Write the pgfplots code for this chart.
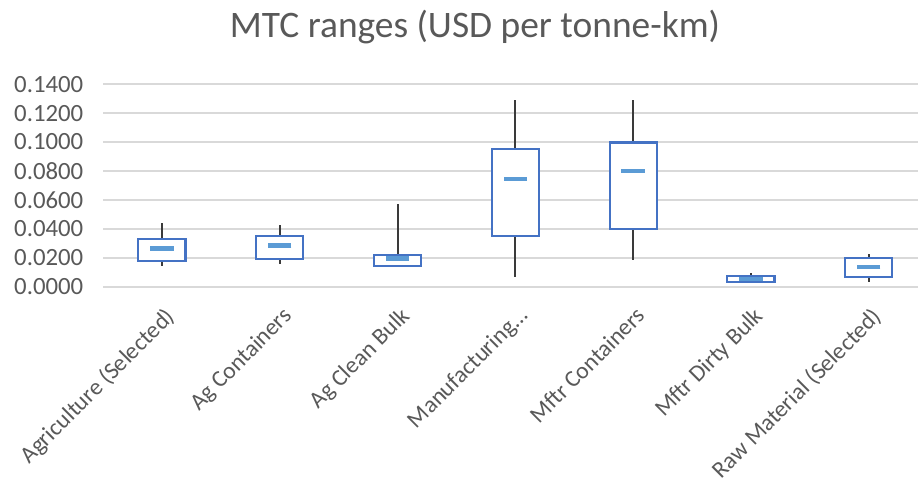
\documentclass[border=0pt]{standalone}
\usepackage{pgfplots}
\pgfplotsset{compat=1.18}
\usepgfplotslibrary{statistics}
\usepackage{fontspec}
\setmainfont{Carlito}
\definecolor{boxblue}{HTML}{4472C4}
\definecolor{medblue}{HTML}{5B9BD5}
\definecolor{txtgray}{HTML}{595959}
\definecolor{gridgray}{HTML}{D9D9D9}
\definecolor{whisk}{HTML}{3A3A3A}
\pgfplotsset{
  mybox/.style={draw=boxblue, fill=white, line width=0.85pt,
    boxplot/draw direction=y,
    boxplot/box extend=0.4, boxplot/whisker extend=0,
    boxplot/every whisker/.style={draw=whisk, line width=0.8pt},
    boxplot/draw/median/.code={}},
}
\begin{document}
\begin{tikzpicture}
\useasboundingbox (-42.4pt,-80.2pt) rectangle (335.4pt,118.1pt);
\begin{axis}[
  scale only axis, width=335.4pt, height=83.5pt,
  xmin=-0.5, xmax=6.418, ymin=0, ymax=0.14,
  ytick={0,0.02,0.04,0.06,0.08,0.10,0.12,0.14},
  xtick={0,1,2,3,4,5,6},
  xticklabels={Agriculture (Selected),Ag Containers,Ag Clean Bulk,Manufacturing…,Mftr Containers,Mftr Dirty Bulk,Raw Material (Selected)},
  ymajorgrids, grid style={gridgray, line width=0.55pt},
  axis line style={draw=none}, major tick length=0pt,
  tick label style={font=\fontsize{10.2}{12}\selectfont, color=txtgray},
  yticklabel style={xshift=-4.6pt, /pgf/number format/fixed, /pgf/number format/fixed zerofill, /pgf/number format/precision=4, /pgf/number format/assume math mode=true},
  xticklabel style={rotate=45, anchor=north east, yshift=-2.5pt, xshift=-1.5pt, font=\fontsize{9.7}{12}\selectfont},
  title={MTC ranges (USD per tonne-km)},
  title style={at={(axis description cs:0.4564,1)}, anchor=center, yshift=17.3pt, font=\fontsize{15.4}{18}\selectfont, color=txtgray},
  clip=false,
]
\addplot[mybox, boxplot prepared={draw position=0, lower whisker=0.0143, lower quartile=0.0180, median=0.0265, upper quartile=0.0329, upper whisker=0.0444}] coordinates {};
\addplot[mybox, boxplot prepared={draw position=1, lower whisker=0.0161, lower quartile=0.0196, median=0.0285, upper quartile=0.0352, upper whisker=0.0426}] coordinates {};
\addplot[mybox, boxplot prepared={draw position=2, lower whisker=0.0143, lower quartile=0.0143, median=0.0196, upper quartile=0.0223, upper whisker=0.0571}] coordinates {};
\addplot[mybox, boxplot prepared={draw position=3, lower whisker=0.0069, lower quartile=0.0350, median=0.0746, upper quartile=0.0955, upper whisker=0.1289}] coordinates {};
\addplot[mybox, boxplot prepared={draw position=4, lower whisker=0.0184, lower quartile=0.0403, median=0.0801, upper quartile=0.0997, upper whisker=0.1289}] coordinates {};
\addplot[mybox, boxplot prepared={draw position=5, lower whisker=0.0032, lower quartile=0.0032, median=0.0055, upper quartile=0.0074, upper whisker=0.0097}] coordinates {};
\addplot[mybox, boxplot prepared={draw position=6, lower whisker=0.0035, lower quartile=0.0069, median=0.0138, upper quartile=0.0203, upper whisker=0.0226}] coordinates {};
\addplot[only marks, mark=-, mark size=4.8pt, mark options={draw=medblue, line width=1.9pt}] coordinates {
(0,0.0265) (1,0.0285) (2,0.0196) (3,0.0746) (4,0.0801) (5,0.0055) (6,0.0138)};
\end{axis}
\end{tikzpicture}
\end{document}
